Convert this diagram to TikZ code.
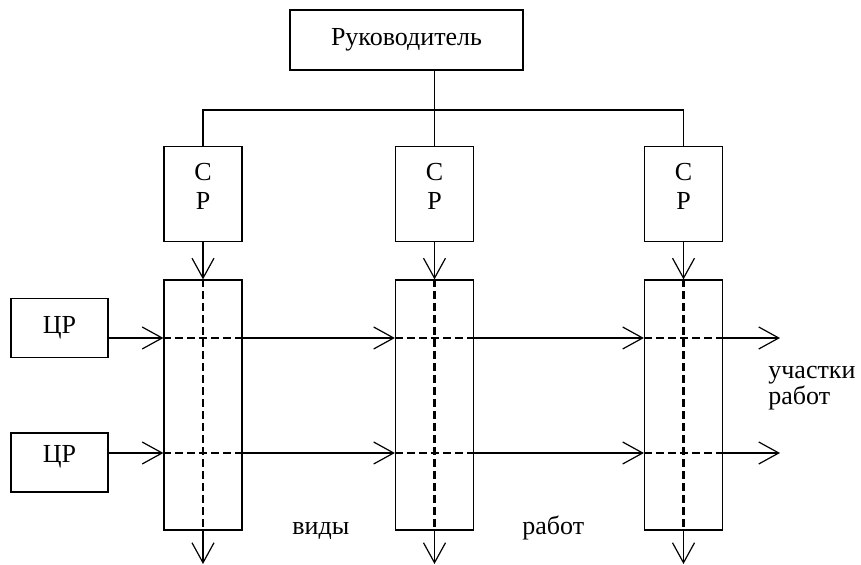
\documentclass[tikz,border=0pt]{standalone}
\usepackage{fontspec}
\setmainfont{Liberation Serif}
\usetikzlibrary{arrows.meta}

\begin{document}
\begin{tikzpicture}[x=0.5pt,y=-0.5pt,
    every node/.style={font=\fontsize{13}{14.5}\selectfont, inner sep=0pt},
    box/.style={draw, line width=0.6pt},
    flow/.style={line width=0.6pt, -{Straight Barb[length=10pt,width=11pt,line width=0.6pt]}},
    thindash/.style={line width=0.6pt, dash pattern=on 4pt off 2pt},
    middash/.style={line width=0.9pt, dash pattern=on 4pt off 2pt},
    thickdash/.style={line width=1.3pt, dash pattern=on 4pt off 2pt}]
    %%%%% START %%%%%
    \useasboundingbox (0,0) rectangle (861,565);

    \coordinate (bus) at (0,110);
    \coordinate (row1) at (0,338);
    \coordinate (row2) at (0,453);
    \coordinate (bottom) at (0,564);
    \coordinate (outer) at (780,0);

    \node[box, minimum width=116.5pt, minimum height=30pt] (boss) at (406.5,40) {Руководитель};

    \node[box, minimum width=39pt, minimum height=47.5pt, align=center, text depth=8pt] (sr1) at (203,194) {С\\Р};
    \node[box, minimum width=39pt, minimum height=47.5pt, align=center, text depth=8pt] (sr2) at (434.5,194) {С\\Р};
    \node[box, minimum width=39pt, minimum height=47.5pt, align=center, text depth=8pt] (sr3) at (683.5,194) {С\\Р};

    \node[box, minimum width=39pt, minimum height=125pt] (col1) at (203,405) {};
    \node[box, minimum width=39pt, minimum height=125pt] (col2) at (434.5,405) {};
    \node[box, minimum width=39pt, minimum height=125pt] (col3) at (683.5,405) {};

    \node[box, minimum width=48.5pt, minimum height=29.5pt] (cr1) at (59.5,328) {ЦР};
    \node[box, minimum width=48.5pt, minimum height=29.5pt, text depth=9pt] (cr2) at (59.5,462.5) {ЦР};

    % tree from the head down
    \draw[line width=0.6pt] (sr2.north |- boss.south) -- (sr2.north);
    \draw[line width=0.6pt] (sr1.north) -- (sr1.north |- bus) -- (sr3.north |- bus) -- (sr3.north);

    % dashed cross inside the columns
    \draw[thindash] (col1.north) -- (col1.south);
    \draw[thickdash] (col2.north) -- (col2.south);
    \draw[thickdash] (col3.north) -- (col3.south);
    \draw[thindash] (col1.west |- row1) -- (col1.east |- row1);
    \draw[middash] (col2.west |- row1) -- (col2.east |- row1);
    \draw[middash] (col3.west |- row1) -- (col3.east |- row1);
    \foreach \i in {1,2,3}
        \draw[thickdash] (col\i.west |- row2) -- (col\i.east |- row2);

    % arrows
    \foreach \i in {1,2,3} {
        \draw[flow] (sr\i.south) -- (col\i.north);
        \draw[flow] (col\i.south) -- (col\i.south |- bottom);
    }
    \foreach \r in {1,2} {
        \draw[flow] (cr\r.east |- row\r) -- (col1.west |- row\r);
        \draw[flow] (col1.east |- row\r) -- (col2.west |- row\r);
        \draw[flow] (col2.east |- row\r) -- (col3.west |- row\r);
        \draw[flow] (col3.east |- row\r) -- (outer |- row\r);
    }

    \node[anchor=base west, align=left, font=\fontsize{13}{11.7}\selectfont] (areas) at (768,405) {участки\\работ};
    \node[anchor=base west] (kinds) at (292,535) {виды};
    \node[anchor=base west] (works) at (522,535) {работ};
    %%%%% END %%%%%
\end{tikzpicture}
\end{document}
